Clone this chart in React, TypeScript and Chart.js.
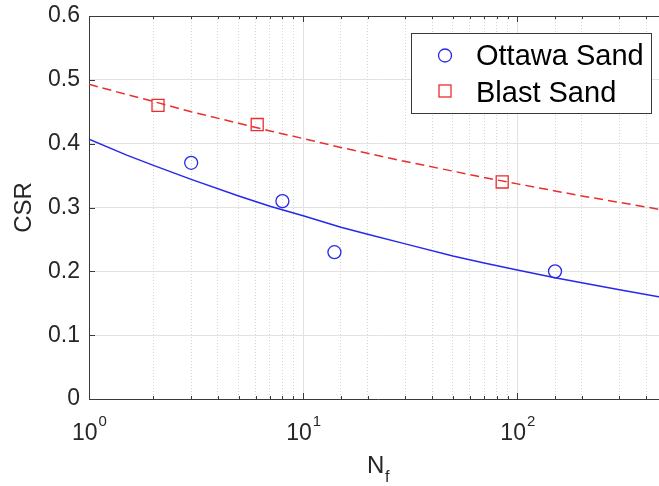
import React, { useEffect, useRef } from 'react';
import { Chart, registerables } from 'chart.js';

Chart.register(...registerables);

// ---- data ----
const ottawaN = [3, 8, 14, 150];
const ottawaCSR = [0.37, 0.31, 0.23, 0.2];
const blastN = [2.1, 6.1, 85];
const blastCSR = [0.46, 0.43, 0.34];
const fitN = [1, 1.5, 2, 3, 5, 7, 10, 15, 20, 30, 50, 70, 100, 150, 200, 300, 500];
const ottawaFit = [0.407, 0.382, 0.366, 0.344, 0.318, 0.302, 0.287, 0.269, 0.258, 0.243, 0.224, 0.213, 0.202, 0.19, 0.182, 0.171, 0.158];
const blastFit = [0.493, 0.477, 0.466, 0.45, 0.432, 0.42, 0.408, 0.394, 0.385, 0.372, 0.357, 0.347, 0.337, 0.326, 0.318, 0.308, 0.295];
const xMajorTicks = [1, 10, 100];
const xTickBase = '10';
const xTickExps = ['0', '1', '2'];
const legendLabels = ['Ottawa Sand', 'Blast Sand'];
const yTitle = 'CSR';
const xTitleMain = 'N';
const xTitleSub = 'f';

const FONT = '"Liberation Sans", Arial, Helvetica, sans-serif';
const AXIS = '#3a3a3a';
const TEXT = '#262626';
const BLUE = 'rgb(40,40,235)';
const RED = 'rgb(235,45,45)';

const isMajor = (v: number) => {
  const l = Math.log10(v);
  return Math.abs(l - Math.round(l)) < 1e-9;
};

const zeroPad = (s: any) => {
  s.paddingTop = 0;
  s.paddingBottom = 0;
  s.paddingLeft = 0;
  s.paddingRight = 0;
};

const overlay = {
  id: 'overlay',
  beforeDatasetsDraw(chart: any) {
    const { ctx, chartArea: a, scales } = chart;
    const xs = scales.x;
    const ys = scales.y;
    ctx.save();
    ctx.strokeStyle = AXIS;
    ctx.lineWidth = 1;
    ctx.beginPath();
    ctx.moveTo(a.left, Math.round(a.top) + 0.5);
    ctx.lineTo(a.right, Math.round(a.top) + 0.5);
    ctx.moveTo(Math.round(a.right) - 0.5, a.top);
    ctx.lineTo(Math.round(a.right) - 0.5, a.bottom);
    for (const t of xs.ticks) {
      const px = Math.round(xs.getPixelForValue(t.value)) + 0.5;
      const len = isMajor(t.value) ? 6 : 3;
      ctx.moveTo(px, a.bottom);
      ctx.lineTo(px, a.bottom - len);
      ctx.moveTo(px, a.top);
      ctx.lineTo(px, a.top + len);
    }
    for (const t of ys.ticks) {
      const py = Math.round(ys.getPixelForValue(t.value)) + 0.5;
      ctx.moveTo(a.left, py);
      ctx.lineTo(a.left + 6, py);
    }
    ctx.stroke();
    ctx.restore();
  },
  afterDraw(chart: any) {
    const { ctx, chartArea: a, scales } = chart;
    const xs = scales.x;
    ctx.save();
    ctx.fillStyle = TEXT;
    ctx.textBaseline = 'alphabetic';
    ctx.textAlign = 'left';
    xMajorTicks.forEach((v, i) => {
      const px = xs.getPixelForValue(v);
      ctx.font = `23px ${FONT}`;
      const wb = ctx.measureText(xTickBase).width;
      ctx.font = `15px ${FONT}`;
      const we = ctx.measureText(xTickExps[i]).width;
      const start = px - (wb + we) / 2;
      ctx.font = `23px ${FONT}`;
      ctx.fillText(xTickBase, start, 440);
      ctx.font = `15px ${FONT}`;
      ctx.fillText(xTickExps[i], start + wb + 1, 426);
    });
    const cx = (a.left + a.right) / 2;
    ctx.font = `24px ${FONT}`;
    const wn = ctx.measureText(xTitleMain).width;
    ctx.font = `16px ${FONT}`;
    const wf = ctx.measureText(xTitleSub).width;
    const sx = cx - (wn + wf) / 2;
    ctx.font = `24px ${FONT}`;
    ctx.fillText(xTitleMain, sx, 473);
    ctx.font = `16px ${FONT}`;
    ctx.fillText(xTitleSub, sx + wn + 0.5, 482);

    ctx.fillStyle = '#ffffff';
    ctx.fillRect(411.5, 33.5, 240, 80);
    ctx.strokeStyle = AXIS;
    ctx.lineWidth = 1;
    ctx.strokeRect(411.5, 33.5, 240, 80);
    ctx.lineWidth = 1.3;
    ctx.strokeStyle = BLUE;
    ctx.beginPath();
    ctx.arc(445, 55.5, 6.5, 0, Math.PI * 2);
    ctx.stroke();
    ctx.strokeStyle = RED;
    ctx.strokeRect(439, 85, 12, 12);
    ctx.fillStyle = '#000000';
    ctx.font = `29px ${FONT}`;
    ctx.fillText(legendLabels[0], 476, 65);
    ctx.fillText(legendLabels[1], 476, 101.5);
    ctx.restore();
  },
};

export default function App() {
  const ref = useRef<HTMLCanvasElement | null>(null);
  useEffect(() => {
    if (!ref.current) return;
    const chart = new Chart(ref.current, {
      type: 'scatter',
      data: {
        datasets: [
          {
            label: legendLabels[0] + ' fit',
            data: fitN.map((x, i) => ({ x, y: ottawaFit[i] })),
            showLine: true,
            borderColor: BLUE,
            borderWidth: 1.5,
            pointRadius: 0,
            fill: false,
          },
          {
            label: legendLabels[1] + ' fit',
            data: fitN.map((x, i) => ({ x, y: blastFit[i] })),
            showLine: true,
            borderColor: RED,
            borderWidth: 1.5,
            borderDash: [9, 5],
            pointRadius: 0,
            fill: false,
          },
          {
            label: legendLabels[0],
            data: ottawaN.map((x, i) => ({ x, y: ottawaCSR[i] })),
            showLine: false,
            pointStyle: 'circle',
            pointRadius: 6.5,
            pointBorderWidth: 1.3,
            borderColor: BLUE,
            backgroundColor: 'rgba(0,0,0,0)',
          },
          {
            label: legendLabels[1],
            data: blastN.map((x, i) => ({ x, y: blastCSR[i] })),
            showLine: false,
            pointStyle: 'rect',
            pointRadius: 8.5,
            pointBorderWidth: 1.3,
            borderColor: RED,
            backgroundColor: 'rgba(0,0,0,0)',
          },
        ],
      },
      options: {
        responsive: false,
        animation: false,
        events: [],
        layout: { autoPadding: false, padding: { top: 16, left: 0, right: 0, bottom: 0 } },
        plugins: { legend: { display: false }, tooltip: { enabled: false } },
        scales: {
          x: {
            type: 'logarithmic',
            min: 1,
            max: 500,
            afterFit: (s: any) => {
              s.height = 87;
              zeroPad(s);
            },
            ticks: { display: false },
            grid: {
              color: (c: any) => {
                const v = c.tick?.value;
                if (v == null) return 'rgba(0,0,0,0)';
                return isMajor(v) ? '#e2e2e2' : '#d4d4d4';
              },
              lineWidth: 1,
              drawTicks: false,
            },
            border: {
              display: true,
              color: AXIS,
              width: 1,
              dash: (c: any) => (c.tick && !isMajor(c.tick.value) ? [1, 2] : []),
            },
          },
          y: {
            type: 'linear',
            min: 0,
            max: 0.6,
            afterFit: (s: any) => {
              s.width = 89;
              zeroPad(s);
            },
            ticks: {
              stepSize: 0.1,
              padding: 9,
              color: TEXT,
              font: { family: FONT, size: 23 },
            },
            grid: { color: '#e2e2e2', lineWidth: 1, drawTicks: false },
            border: { display: true, color: AXIS, width: 1 },
            title: {
              display: true,
              text: yTitle,
              color: TEXT,
              font: { family: FONT, size: 24 },
              padding: { top: 10, bottom: 0 },
            },
          },
        },
      },
      plugins: [overlay],
    } as any);
    return () => chart.destroy();
  }, []);
  return (
    <div
      style={{
        position: 'absolute',
        left: 0,
        top: 0,
        width: 659,
        height: 486,
        overflow: 'hidden',
        background: '#fff',
      }}
    >
      <canvas ref={ref} width={667} height={486} />
    </div>
  );
}
